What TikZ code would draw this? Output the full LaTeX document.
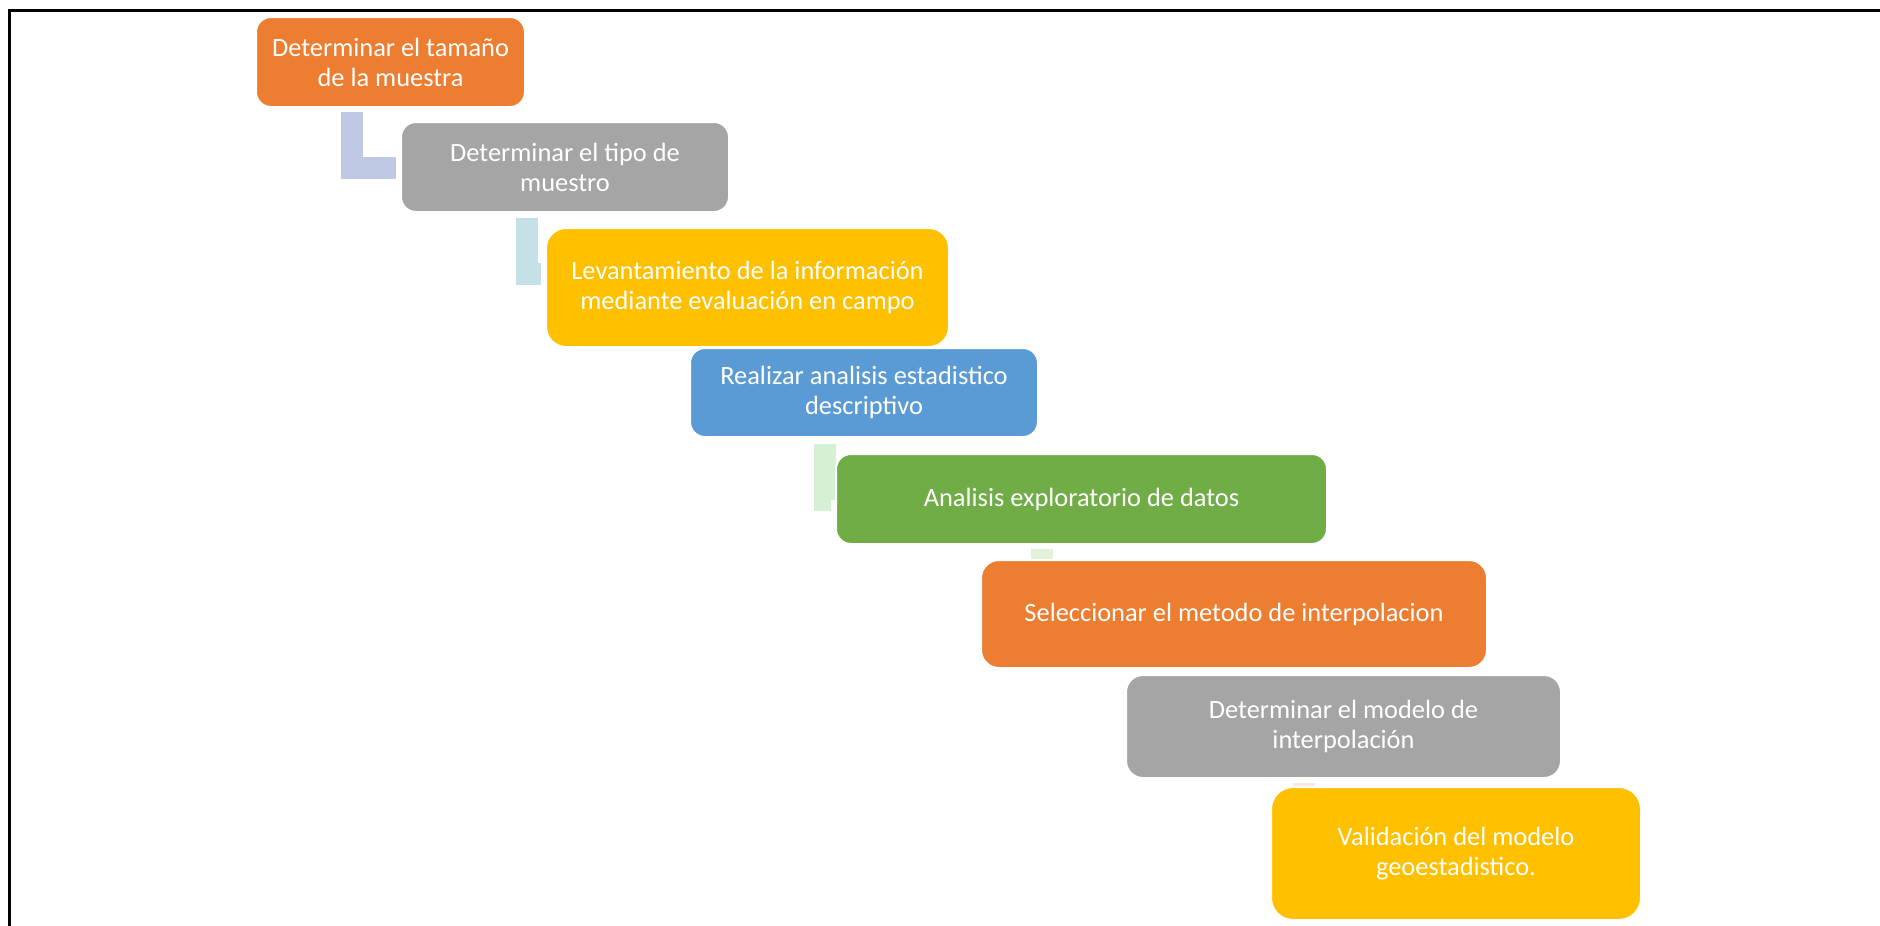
\documentclass[tikz,border=0pt]{standalone}
\usepackage{fontspec}
\setmainfont{Carlito}
\usepackage{xcolor}
\usepackage{tikz}
\usetikzlibrary{calc,backgrounds}
\definecolor{naranja}{RGB}{237,125,49}
\definecolor{gris}{RGB}{165,165,165}
\definecolor{amarillo}{RGB}{255,192,0}
\definecolor{azul}{RGB}{91,155,213}
\definecolor{verde}{RGB}{112,173,71}
\definecolor{lila}{RGB}{191,201,228}
\definecolor{celeste}{RGB}{197,225,231}
\definecolor{verdeclaro}{RGB}{213,240,213}
\definecolor{verdepalido}{RGB}{227,241,218}
\definecolor{rosado}{RGB}{252,232,226}
\tikzset{
	paso/.style = {rectangle, rounded corners=7.5pt, draw=white, line width=1pt, fill=#1, text=white, align=center, inner sep=0pt, font=\fontsize{13.2}{15}\selectfont},
	enlace/.style = {line width=11pt, line join=miter, draw=#1}
}

\begin{document}
\begin{tikzpicture}[x=0.5pt, y=-0.5pt]
	\useasboundingbox (0,0) rectangle (1880,926);
	\draw[line width=1.5pt] (9,926) -- (9,10) -- (1880,10);
	\node[paso=naranja, minimum width=134.5pt, minimum height=45pt] (b1) at (390.5,62) {Determinar el tamaño\\de la muestra};
	\node[paso=gris, minimum width=164pt, minimum height=45pt] (b2) at (565,167) {Determinar el tipo de\\muestro};
	\node[paso=amarillo, rounded corners=10pt, minimum width=201.5pt, minimum height=59.5pt] (b3) at (747.5,287.5) {Levantamiento de la información\\mediante evaluación en campo};
	\node[paso=azul, minimum width=174pt, minimum height=44.5pt] (b4) at (864,392.5) {Realizar analisis estadistico\\descriptivo};
	\node[paso=verde, minimum width=245.5pt, minimum height=45pt] (b5) at (1081.5,499) {Analisis exploratorio de datos};
	\node[paso=naranja, rounded corners=9pt, minimum width=253pt, minimum height=54pt] (b6) at (1234,614) {Seleccionar el metodo de interpolacion};
	\node[paso=gris, rounded corners=8.5pt, minimum width=217.5pt, minimum height=51.5pt] (b7) at (1343.5,726.5) {Determinar el modelo de\\interpolación};
	\node[paso=amarillo, rounded corners=11pt, minimum width=185pt, minimum height=66.5pt] (b8) at (1456,853.5) {Validación del modelo\\geoestadistico.};
	\begin{scope}[on background layer]
		\draw[enlace=lila] ($(b1.south west)+(96.5,4)$) |- ($(b2.north west)+(-4,46.5)$);
		\draw[enlace=celeste] ($(b2.south west)+(126.5,5)$) |- ($(b3.north west)+(-4,46.5)$);
		\draw[enlace=verdeclaro] ($(b4.south west)+(136,6)$) |- ($(b5.north west)+(-4,46.5)$);
		\draw[enlace=verdepalido] ($(b5.south west)+(207,4)$) -- ($(b6.north west)+(62,10)$);
		\draw[enlace=rosado] ($(b7.south west)+(179,4)$) -- ($(b8.north west)+(34,10)$);
	\end{scope}
\end{tikzpicture}
\end{document}
